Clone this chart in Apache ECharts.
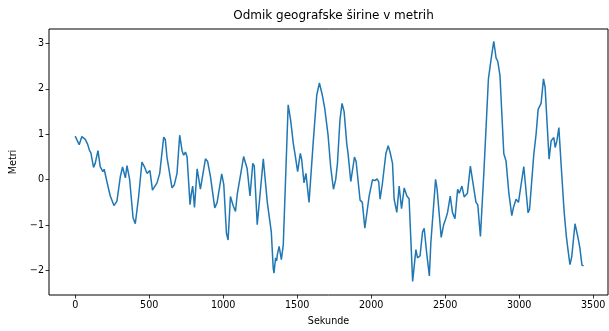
<!DOCTYPE html>
<html>
<head>
<meta charset="utf-8">
<script src="https://cdn.jsdelivr.net/npm/echarts@6/dist/echarts.min.js"></script>
<style>
html,body{margin:0;padding:0;background:#fff;}
#chart{width:609px;height:331px;}
</style>
</head>
<body>
<div id="chart"></div>
<script>
var seconds = [0,11,27,45,68,83,97,106,124,135,154,169,187,196,214,237,262,282,305,320,339,350,368,391,406,411,429,451,467,485,505,522,535,553,571,598,609,620,654,670,688,706,722,733,745,756,776,785,794,806,824,846,880,895,914,943,959,990,1004,1022,1033,1049,1067,1083,1095,1117,1138,1162,1181,1200,1210,1230,1248,1271,1298,1305,1325,1338,1343,1354,1361,1366,1378,1393,1406,1439,1456,1474,1485,1494,1503,1521,1530,1546,1559,1580,1609,1632,1650,1670,1686,1708,1726,1745,1760,1772,1789,1803,1817,1835,1844,1862,1887,1898,1925,1940,1957,1968,1986,2009,2025,2040,2051,2060,2075,2099,2115,2128,2144,2155,2173,2189,2205,2223,2241,2256,2280,2302,2313,2330,2347,2358,2376,2393,2403,2412,2435,2445,2473,2489,2505,2516,2534,2549,2566,2584,2595,2613,2628,2650,2670,2683,2708,2720,2738,2762,2792,2810,2828,2844,2855,2870,2896,2911,2930,2950,2962,2979,2995,3005,3031,3040,3060,3070,3099,3114,3128,3148,3164,3175,3202,3216,3234,3243,3255,3268,3284,3304,3318,3330,3343,3355,3377,3397,3410,3424,3435];
var metres = [0.96,0.93,0.77,0.95,0.89,0.79,0.64,0.59,0.27,0.36,0.64,0.29,0.18,0.23,-0.04,-0.36,-0.57,-0.47,0.07,0.28,0.04,0.31,0.0,-0.84,-0.97,-0.93,-0.36,0.39,0.29,0.14,0.20,-0.23,-0.27,-0.07,0.14,0.94,0.88,0.5,-0.18,-0.11,0.14,0.98,0.64,0.54,0.61,0.5,-0.55,-0.3,-0.14,-0.61,0.24,-0.21,0.46,0.40,0.07,-0.62,-0.5,0.13,-0.11,-1.18,-1.33,-0.37,-0.57,-0.7,-0.32,0.1,0.51,0.24,-0.36,0.36,0.3,-0.99,-0.36,0.46,-0.5,-0.47,-1.15,-1.95,-2.06,-1.72,-1.79,-1.65,-1.47,-1.76,-1.43,1.65,1.3,0.79,0.57,0.55,0.18,0.58,0.45,-0.07,0.14,-0.5,0.86,1.86,2.13,1.86,1.57,1.0,0.29,-0.21,0.0,0.36,1.32,1.68,1.5,0.79,0.57,-0.04,0.5,0.4,-0.45,-0.5,-1.07,-1.05,-0.36,0.0,-0.02,0.02,-0.05,-0.43,-0.1,0.57,0.75,0.6,0.36,-0.43,-0.72,-0.14,-0.64,-0.18,-0.36,-0.42,-2.24,-1.54,-1.72,-1.68,-1.15,-1.07,-1.65,-2.12,-1.39,-1.37,0.01,-0.2,-1.27,-1.0,-0.85,-0.72,-0.36,-0.72,-0.86,-0.21,-0.3,-0.14,-0.38,-0.30,0.30,0.26,-0.5,-0.55,-1.25,0.2,2.22,2.65,3.05,2.68,2.61,2.3,0.57,0.41,-0.29,-0.79,-0.6,-0.43,-0.5,-0.48,0.29,0.27,-0.73,-0.65,0.57,1.0,1.55,1.68,2.22,2.04,0.45,0.86,0.93,0.71,0.86,1.15,0.29,-0.72,-1.23,-1.55,-1.87,-1.7,-0.97,-1.27,-1.5,-1.88,-1.9];
var xTicks = [0,500,1000,1500,2000,2500,3000,3500];
var yTicks = [-2,-1,0,1,2,3];
var titleText = 'Odmik geografske širine v metrih';
var xName = 'Sekunde';
var yName = 'Metri';

var pts = seconds.map(function(s,i){return [s, metres[i]];});
var font = 'DejaVu Sans';
var chart = echarts.init(document.getElementById('chart'), null, {renderer:'canvas'});
chart.setOption({
  animation:false,
  backgroundColor:'#fff',
  title:{text:titleText, left:328.5, textAlign:'center', top:5,
    textStyle:{fontFamily:font, fontSize:12, fontWeight:'normal', color:'#000'}},
  grid:{left:49, right:1, top:29, bottom:30, show:true, borderColor:'#000', borderWidth:1, backgroundColor:'transparent'},
  xAxis:{type:'value', min:-177, max:3600,
    name:xName, nameLocation:'middle', nameGap:21,
    nameTextStyle:{fontFamily:font, fontSize:9.6, color:'#000'},
    axisLine:{show:false, onZero:false}, splitLine:{show:false},
    axisTick:{show:true, length:3.5, lineStyle:{color:'#000', width:0.8}, customValues:xTicks},
    axisLabel:{fontFamily:font, fontSize:9.6, color:'#000', margin:5, customValues:xTicks,
      formatter:function(v){return String(v);}}
  },
  yAxis:{type:'value', min:-2.54, max:3.32,
    name:yName, nameLocation:'middle', nameGap:24,
    nameTextStyle:{fontFamily:font, fontSize:9.6, color:'#000'},
    axisLine:{show:false, onZero:false}, splitLine:{show:false},
    axisTick:{show:true, length:3.5, lineStyle:{color:'#000', width:0.8}, customValues:yTicks},
    axisLabel:{fontFamily:font, fontSize:9.6, color:'#000', margin:5, customValues:yTicks,
      formatter:function(v){return String(v).replace('-', '\u2212');}}
  },
  series:[{type:'line', data:pts, showSymbol:false, symbol:'none',
    lineStyle:{color:'#1f77b4', width:1.5}, itemStyle:{color:'#1f77b4'}}]
});
</script>
</body>
</html>
